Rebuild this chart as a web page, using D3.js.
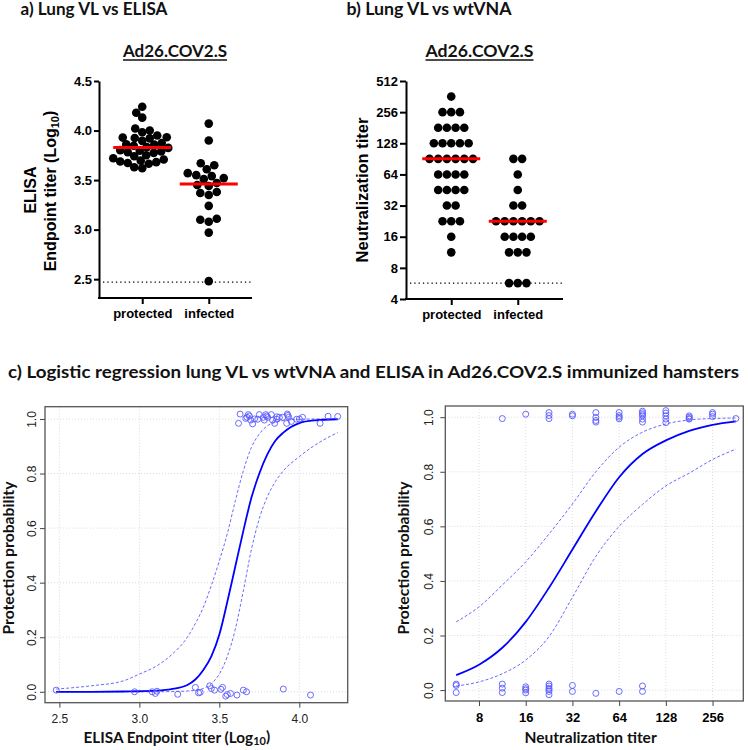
<!DOCTYPE html>
<html><head><meta charset="utf-8">
<script src="https://cdn.jsdelivr.net/npm/d3@7"></script>
<style>body{margin:0;background:#fff} svg{display:block}</style>
</head><body>
<script>
// ---------------- DATA ----------------
const groups = ["protected", "infected"];
const elisaProtected = [3.62, 3.63, 3.665, 3.673, 3.681, 3.688, 3.696, 3.708, 3.72, 3.74, 3.75, 3.775, 3.781, 3.79, 3.796, 3.802, 3.825, 3.833, 3.846, 3.858, 3.86, 3.875, 3.896, 3.921, 3.925, 3.929, 3.933, 3.95, 3.983, 4.0, 4.02, 4.13, 4.18, 4.24];
const elisaInfected = [2.48, 2.97, 3.08, 3.10, 3.11, 3.24, 3.35, 3.37, 3.38, 3.44, 3.45, 3.47, 3.51, 3.52, 3.54, 3.55, 3.57, 3.61, 3.65, 3.67, 3.90, 4.07];
const elisaTicks = [2.5, 3.0, 3.5, 4.0, 4.5];
const elisaLOD = 2.47;

const vnaProtected = [11.3, 16, 22.6, 22.6, 22.6, 32, 32, 45.3, 45.3, 45.3, 45.3, 64, 64, 64, 64, 90.5, 90.5, 90.5, 90.5, 90.5, 90.5, 128, 128, 128, 128, 128, 181, 181, 181, 181, 256, 256, 256, 362];
const vnaInfected = [5.7, 5.7, 5.7, 11.3, 11.3, 11.3, 16, 16, 16, 16, 22.6, 22.6, 22.6, 22.6, 22.6, 22.6, 32, 32, 45.3, 64, 90.5, 90.5];
const vnaTicks = [4, 8, 16, 32, 64, 128, 256, 512];
const vnaLOD = 5.7;

// logistic regression panels: jittered outcome positions
const elisaProtectedJit = [0.984, 1.018, 1.002, 1.006, 1.016, 1.011, 0.996, 0.982, 1.0, 0.999, 1.016, 1.006, 0.996, 1.016, 1.011, 1.006, 1.016, 0.996, 0.984, 0.999, 1.008, 1.006, 1.006, 0.984, 1.018, 1.013, 1.006, 0.991, 0.999, 1.0, 1.006, 0.984, 1.01, 1.009];
const elisaInfectedJit = [0.006, 0, 0, -0.006, 0.002, -0.009, 0.016, -0.004, -0.002, 0.022, 0.012, 0.006, 0.009, 0.016, -0.016, -0.01, -0.006, -0.012, 0.006, 0, 0.01, -0.012];
const vnaProtectedJit = [0.995, 1.011, 1.017, 1.006, 0.995, 1.011, 1.005, 1.017, 0.999, 0.988, 0.982, 1.017, 1.0, 0.994, 1.006, 1.022, 1.016, 1.01, 1.005, 0.993, 0.982, 1.024, 1.015, 1.005, 0.993, 0.98, 1.005, 1.0, 0.995, 0.993, 1.017, 1.011, 1.002, 0.995];
const vnaInfectedJit = [0.022, 0.017, -0.009, 0.022, 0.007, -0.009, 0.012, 0.005, -0.01, 0.0, 0.022, 0.015, 0.007, 0.002, -0.005, -0.017, 0.017, -0.005, -0.012, -0.005, 0.015, -0.005];

// fitted curves
const elisaGrid = [2.48, 2.7, 2.9, 3.0, 3.1, 3.2, 3.3, 3.35, 3.4, 3.45, 3.5, 3.55, 3.6, 3.65, 3.7, 3.75, 3.8, 3.85, 3.9, 4.0, 4.1, 4.24];
const elisaFit   = [0.000, 0.000, 0.001, 0.002, 0.004, 0.010, 0.025, 0.045, 0.08, 0.13, 0.21, 0.33, 0.46, 0.59, 0.71, 0.80, 0.87, 0.92, 0.95, 0.985, 0.995, 0.999];
const elisaUpper = [0.010, 0.022, 0.040, 0.065, 0.092, 0.135, 0.20, 0.25, 0.31, 0.39, 0.48, 0.58, 0.70, 0.81, 0.895, 0.945, 0.975, 0.988, 0.994, 0.999, 1.0, 1.0];
const elisaLower = [0.000, 0.000, 0.000, 0.000, 0.000, 0.001, 0.003, 0.006, 0.012, 0.030, 0.065, 0.13, 0.23, 0.37, 0.52, 0.635, 0.715, 0.77, 0.81, 0.862, 0.905, 0.95];
const elisaXTicks = [2.5, 3.0, 3.5, 4.0];

const vnaGrid  = [5.7, 8, 11.3, 16, 22.6, 32, 45.3, 64, 90.5, 128, 181, 256, 362];
const vnaFit   = [0.055, 0.093, 0.155, 0.25, 0.375, 0.515, 0.655, 0.78, 0.865, 0.915, 0.95, 0.972, 0.985];
const vnaUpper = [0.25, 0.305, 0.385, 0.47, 0.572, 0.682, 0.80, 0.89, 0.945, 0.975, 0.99, 0.995, 0.997];
const vnaLower = [0.015, 0.03, 0.06, 0.11, 0.196, 0.34, 0.49, 0.60, 0.68, 0.748, 0.795, 0.845, 0.883];
const vnaXTicks = [8, 16, 32, 64, 128, 256];
const probTicks = [0, 0.2, 0.4, 0.6, 0.8, 1.0];

// ---------------- DRAW ----------------
const W = 748, H = 750;
const svg = d3.select("body").append("svg").attr("width", W).attr("height", H);
const SANS = "'Liberation Sans', Arial, sans-serif";
const CAL = "Lato, 'Open Sans', sans-serif";

function title(x, y, txt, size, len) {
  svg.append("text").attr("x", x).attr("y", y).attr("font-family", CAL)
    .attr("font-weight", "bold").attr("font-size", size).attr("fill", "#111")
    .attr("textLength", len).attr("lengthAdjust", "spacingAndGlyphs").text(txt);
}
title(20.5, 14.5, "a) Lung VL vs ELISA", 16.5, 147);
title(346.5, 14.5, "b) Lung VL vs wtVNA", 16.5, 165);
title(8, 378, "c) Logistic regression lung VL vs wtVNA and ELISA in Ad26.COV2.S immunized hamsters", 17, 731);

function underlined(cx, y, txt, len) {
  svg.append("text").attr("x", cx - len / 2).attr("y", y)
    .attr("font-family", CAL).attr("font-weight", "bold").attr("font-size", 17).attr("fill", "#111")
    .attr("textLength", len).attr("lengthAdjust", "spacingAndGlyphs").text(txt);
  svg.append("line").attr("x1", cx - len / 2).attr("x2", cx + len / 2).attr("y1", y + 3).attr("y2", y + 3)
    .attr("stroke", "#111").attr("stroke-width", 1.4);
}
underlined(175, 57, "Ad26.COV2.S", 104);
underlined(479.5, 57, "Ad26.COV2.S", 108);

function styleAxis(g, size, weight) {
  g.selectAll("text").attr("font-family", SANS).attr("font-size", size).attr("font-weight", weight).attr("fill", "#000");
}

// swarm layout
function swarmOffsets(vals, yScale, minD) {
  const idx = vals.map((v, i) => i).sort((a, b) => vals[a] - vals[b]);
  const placed = [];
  const off = new Array(vals.length);
  idx.forEach(i => {
    const y = yScale(vals[i]);
    for (let k = 0; k < 400; k++) {
      const dx = (k % 2 === 0 ? 1 : -1) * Math.ceil(k / 2) * 0.5;
      if (placed.every(p => (p.x - dx) ** 2 + (p.y - y) ** 2 >= minD * minD)) {
        placed.push({x: dx, y}); off[i] = dx; break;
      }
    }
  });
  return off;
}
function rowOffsets(vals, step) {
  const counts = d3.rollup(vals, v => v.length, d => d);
  const seen = new Map();
  return vals.map(v => {
    const n = counts.get(v); const i = seen.get(v) || 0; seen.set(v, i + 1);
    return (i - (n - 1) / 2) * step;
  });
}

function dotPanel(opts) {
  const g = svg.append("g");
  const {x, y, xl, xr, yAxis, data, offsets, lod, lodX1, lodX2} = opts;
  g.append("line").attr("x1", lodX1).attr("x2", lodX2).attr("y1", y(lod)).attr("y2", y(lod))
    .attr("stroke", "#000").attr("stroke-width", 1.3).attr("stroke-dasharray", "1.3,3");
  const ya = g.append("g").attr("transform", `translate(${xl},0)`).call(yAxis);
  ya.select(".domain").attr("stroke-width", 2);
  ya.selectAll(".tick line").attr("stroke-width", 2);
  styleAxis(ya, 13, "bold");
  const xa = g.append("g").attr("transform", `translate(0,${y.range()[0]})`)
    .call(d3.axisBottom(x).tickSize(6).tickSizeOuter(0).tickPadding(5));
  xa.select(".domain").remove();
  xa.selectAll(".tick line").attr("stroke-width", 2);
  styleAxis(xa, 13, "bold");
  g.append("line").attr("x1", xl - 1).attr("x2", xr).attr("y1", y.range()[0]).attr("y2", y.range()[0])
    .attr("stroke", "#000").attr("stroke-width", 2);
  groups.forEach((gr, gi) => {
    const vals = data[gi], off = offsets[gi];
    g.selectAll(null).data(vals).enter().append("circle")
      .attr("cx", (d, i) => x(gr) + off[i]).attr("cy", d => y(d)).attr("r", 4.3).attr("fill", "#000");
    const m = d3.median(vals);
    g.append("line").attr("x1", x(gr) - 29).attr("x2", x(gr) + 29).attr("y1", y(m)).attr("y2", y(m))
      .attr("stroke", "#ff0000").attr("stroke-width", 3);
  });
  return g;
}

// Panel a
const ya_ = d3.scaleLinear().domain([2.31, 4.5]).range([298, 81]);
const xa_ = d3.scalePoint().domain(groups).range([99, 252]).padding(0.65);
dotPanel({
  x: xa_, y: ya_, xl: 99, xr: 252,
  yAxis: d3.axisLeft(ya_).tickValues(elisaTicks).tickFormat(d3.format(".1f")).tickSize(5).tickSizeOuter(0).tickPadding(2),
  data: [elisaProtected, elisaInfected],
  offsets: [swarmOffsets(elisaProtected, ya_, 7.6), swarmOffsets(elisaInfected, ya_, 8.4)],
  lod: elisaLOD, lodX1: 103, lodX2: 253
});
{
  svg.append("text").attr("transform", "translate(36,190) rotate(-90)").attr("text-anchor", "middle")
    .attr("font-family", SANS).attr("font-weight", "bold").attr("font-size", 16).text("ELISA");
  const t2 = svg.append("text").attr("transform", "translate(56,191) rotate(-90)").attr("text-anchor", "middle")
    .attr("font-family", SANS).attr("font-weight", "bold").attr("font-size", 16);
  t2.append("tspan").text("Endpoint titer (Log");
  t2.append("tspan").attr("dy", "0.3em").attr("font-size", 11).text("10");
  t2.append("tspan").attr("dy", "-0.3em").text(")");
}

// Panel b
const yb_ = d3.scaleLog().base(2).domain([4, 512]).range([299, 81]);
const xb_ = d3.scalePoint().domain(groups).range([406, 563]).padding(0.68);
dotPanel({
  x: xb_, y: yb_, xl: 406, xr: 563,
  yAxis: d3.axisLeft(yb_).tickValues(vnaTicks).tickFormat(d3.format("d")).tickSize(6).tickSizeOuter(0).tickPadding(2),
  data: [vnaProtected, vnaInfected],
  offsets: [rowOffsets(vnaProtected, 8.7), rowOffsets(vnaInfected, 8.7)],
  lod: vnaLOD, lodX1: 410, lodX2: 563
});
svg.append("text").attr("transform", "translate(368,190) rotate(-90)").attr("text-anchor", "middle")
  .attr("font-family", SANS).attr("font-weight", "bold").attr("font-size", 16.5).text("Neutralization titer");

// Panel c
function regPanel(o) {
  const {x, y, xTicks, xFmt, xBold, yLabOff, grid, fit, lo, hi, pX, pY, iX, iY, xTitle, yTitleX} = o;
  const g = svg.append("g");
  const [x0, x1] = x.range(), [y0, y1] = y.range();
  g.selectAll(null).data(xTicks).enter().append("line")
    .attr("x1", d => x(d)).attr("x2", d => x(d)).attr("y1", y1).attr("y2", y0)
    .attr("stroke", "#d3d3d3").attr("stroke-width", 0.8).attr("stroke-dasharray", "1,2");
  g.selectAll(null).data(probTicks).enter().append("line")
    .attr("x1", x0).attr("x2", x1).attr("y1", d => y(d)).attr("y2", d => y(d))
    .attr("stroke", "#d3d3d3").attr("stroke-width", 0.8).attr("stroke-dasharray", "1,2");
  const xa = g.append("g").attr("transform", `translate(0,${y0})`)
    .call(d3.axisBottom(x).tickValues(xTicks).tickFormat(xFmt).tickSize(5).tickPadding(6.5));
  xa.select(".domain").remove();
  xa.selectAll(".tick line").attr("stroke", "#444");
  xa.selectAll("text").attr("font-family", SANS).attr("font-size", xBold ? 13 : 12)
    .attr("font-weight", xBold ? "bold" : "normal").attr("fill", xBold ? "#000" : "#222");
  const ya = g.append("g").attr("transform", `translate(${x0},0)`)
    .call(d3.axisLeft(y).tickValues(probTicks).tickFormat(d3.format(".1f")).tickSize(5));
  ya.select(".domain").remove();
  ya.selectAll(".tick line").attr("stroke", "#444");
  ya.selectAll("text").attr("font-family", SANS).attr("font-size", 12).attr("fill", "#222")
    .attr("text-anchor", "middle").attr("transform", "rotate(-90)").attr("x", 0).attr("y", yLabOff).attr("dy", 0);
  g.append("rect").attr("x", x0).attr("y", y1).attr("width", x1 - x0).attr("height", y0 - y1)
    .attr("fill", "none").attr("stroke", "#555").attr("stroke-width", 1.3);
  const line = d3.line().x(d => x(d[0])).y(d => y(d[1])).curve(d3.curveMonotoneX);
  [[hi, true], [lo, true], [fit, false]].forEach(([arr, dashed]) => {
    g.append("path").attr("d", line(grid.map((v, i) => [v, arr[i]])))
      .attr("fill", "none").attr("stroke", dashed ? "#6a6aff" : "#0000ff")
      .attr("stroke-width", dashed ? 1 : 1.8).attr("stroke-dasharray", dashed ? "3,2" : null);
  });
  const pts = pX.map((v, i) => [v, pY[i]]).concat(iX.map((v, i) => [v, iY[i]]));
  g.selectAll(null).data(pts).enter().append("circle")
    .attr("cx", d => x(d[0])).attr("cy", d => y(d[1])).attr("r", 3)
    .attr("fill", "none").attr("stroke", "#5a5aff").attr("stroke-width", 0.9);
  const xt = g.append("text").attr("x", o.xTitleLeft).attr("y", 743)
    .attr("font-family", CAL).attr("font-weight", "bold").attr("font-size", 17).attr("fill", "#111");
  xTitle(xt);
  // fit title to measured reference width
  const w = xt.node().getBBox().width;
  if (o.xTitleWidth) xt.attr("font-size", 17 * o.xTitleWidth / w);
  g.append("text").attr("transform", `translate(${yTitleX},558) rotate(-90)`).attr("text-anchor", "middle")
    .attr("font-family", CAL).attr("font-weight", "bold").attr("font-size", 15.5).attr("fill", "#111")
    .attr("textLength", 153).attr("lengthAdjust", "spacingAndGlyphs")
    .text("Protection probability");
}

const xcl = d3.scaleLinear().domain([2.41, 4.3025]).range([45, 347.7]);
const ycl = d3.scaleLinear().domain([-0.04, 1.045]).range([702.7, 406.7]);
regPanel({
  x: xcl, y: ycl, xTicks: elisaXTicks, xFmt: d3.format(".1f"), xBold: false, yLabOff: -9,
  grid: elisaGrid, fit: elisaFit, lo: elisaLower, hi: elisaUpper,
  pX: elisaProtected, pY: elisaProtectedJit, iX: elisaInfected, iY: elisaInfectedJit,
  xTitleLeft: 83.5, xTitleWidth: 187,
  xTitle: t => { t.append("tspan").text("ELISA Endpoint titer (Log");
                 t.append("tspan").attr("dy", "0.22em").attr("font-size", "0.72em").text("10");
                 t.append("tspan").attr("dy", "-0.22em").text(")"); },
  yTitleX: 14
});

const xcr = d3.scaleLog().base(2).domain([4.85, 404]).range([445.3, 743.3]);
const ycr = d3.scaleLinear().domain([-0.04, 1.041]).range([701, 406]);
regPanel({
  x: xcr, y: ycr, xTicks: vnaXTicks, xFmt: d3.format("d"), xBold: true, yLabOff: -12,
  grid: vnaGrid, fit: vnaFit, lo: vnaLower, hi: vnaUpper,
  pX: vnaProtected, pY: vnaProtectedJit, iX: vnaInfected, iY: vnaInfectedJit,
  xTitleLeft: 524.5, xTitleWidth: 133,
  xTitle: t => t.text("Neutralization titer"),
  yTitleX: 409
});
</script>
</body></html>
